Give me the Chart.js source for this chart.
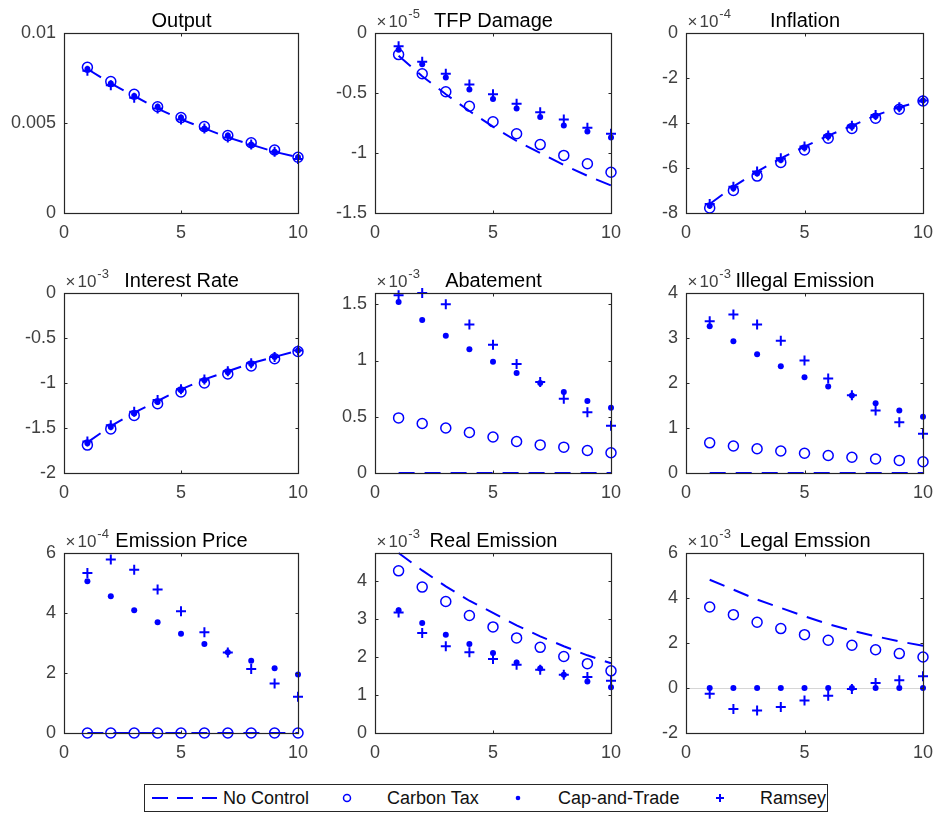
<!DOCTYPE html>
<html><head><meta charset="utf-8">
<script src="https://cdn.jsdelivr.net/npm/chart.js@4"></script>
<style>
html,body{margin:0;padding:0;background:#fff;overflow:hidden;}
body{width:934px;height:814px;position:relative;font-family:'Liberation Sans',Arial,sans-serif;}
canvas{position:absolute;}
#legend{position:absolute;left:144px;top:784px;width:682px;height:26px;border:1px solid #262626;background:#fff;}
#legend svg{position:absolute;left:0;top:0;}
.lt{position:absolute;top:0;line-height:26px;font-size:18px;color:#111;white-space:nowrap;}
</style></head><body>
<div id="legend">
<svg width="682" height="26">
<line x1="7" y1="13" x2="72" y2="13" stroke="#0000ff" stroke-width="2" stroke-dasharray="16 9"/>
<circle cx="202" cy="13" r="3.5" fill="none" stroke="#0000ff" stroke-width="1.5"/>
<circle cx="373" cy="13" r="2.3" fill="#0000ff"/>
<line x1="571" y1="13" x2="579" y2="13" stroke="#0000ff" stroke-width="2"/>
<line x1="575" y1="9" x2="575" y2="17" stroke="#0000ff" stroke-width="2"/>
</svg>
<span class="lt" style="left:78px">No Control</span>
<span class="lt" style="left:242px">Carbon Tax</span>
<span class="lt" style="left:413px">Cap-and-Trade</span>
<span class="lt" style="left:615px">Ramsey</span>
</div>
<script>
// ---------- data ----------
const periods = [1,2,3,4,5,6,7,8,9,10];
const seriesNames = ['No Control','Carbon Tax','Cap-and-Trade','Ramsey'];
const xTickValues = [0,5,10];

// Output
const outNo  = [0.0080,0.0072,0.0065,0.0058,0.0052,0.0047,0.0042,0.0038,0.0034,0.0031];
const outTax = [0.0081,0.0073,0.0066,0.0059,0.0053,0.0048,0.0043,0.0039,0.0035,0.0031];
const outCap = [0.0080,0.0072,0.0065,0.0059,0.0053,0.0047,0.0043,0.0038,0.0034,0.0031];
const outRam = [0.0079,0.0071,0.0064,0.0058,0.0052,0.0047,0.0042,0.0038,0.0034,0.0030];
// TFP Damage (x1e-5)
const tfpNo  = [-0.19,-0.36,-0.51,-0.65,-0.78,-0.90,-1.00,-1.10,-1.19,-1.27];
const tfpTax = [-0.18,-0.34,-0.49,-0.61,-0.74,-0.84,-0.93,-1.02,-1.09,-1.16];
const tfpCap = [-0.14,-0.26,-0.37,-0.47,-0.55,-0.63,-0.70,-0.77,-0.82,-0.87];
const tfpRam = [-0.11,-0.24,-0.34,-0.43,-0.51,-0.59,-0.66,-0.72,-0.79,-0.84];
// Inflation (x1e-4)
const infNo  = [-7.60,-6.83,-6.16,-5.57,-5.05,-4.56,-4.13,-3.66,-3.30,-3.01];
const infTax = [-7.78,-7.00,-6.36,-5.75,-5.20,-4.68,-4.24,-3.79,-3.39,-3.02];
const infCap = [-7.68,-6.90,-6.24,-5.64,-5.10,-4.60,-4.17,-3.70,-3.33,-3.00];
const infRam = [-7.60,-6.83,-6.16,-5.57,-5.04,-4.55,-4.12,-3.64,-3.30,-3.00];
// Interest Rate (x1e-3)
const irNo  = [-1.66,-1.48,-1.33,-1.20,-1.07,-0.96,-0.87,-0.78,-0.71,-0.64];
const irTax = [-1.69,-1.51,-1.36,-1.23,-1.10,-1.00,-0.90,-0.81,-0.73,-0.65];
const irCap = [-1.67,-1.49,-1.34,-1.21,-1.08,-0.97,-0.88,-0.79,-0.71,-0.64];
const irRam = [-1.65,-1.47,-1.32,-1.19,-1.07,-0.96,-0.87,-0.78,-0.71,-0.64];
// Abatement (x1e-3)
const abNo  = [0,0,0,0,0,0,0,0,0,0];
const abTax = [0.49,0.44,0.40,0.36,0.32,0.28,0.25,0.23,0.20,0.18];
const abCap = [1.52,1.36,1.22,1.10,0.99,0.89,0.80,0.72,0.64,0.58];
const abRam = [1.58,1.60,1.50,1.32,1.14,0.97,0.81,0.66,0.54,0.42];
// Illegal Emission (x1e-3)
const ilNo  = [0,0,0,0,0,0,0,0,0,0];
const ilTax = [0.67,0.60,0.54,0.49,0.44,0.39,0.35,0.31,0.28,0.25];
const ilCap = [3.26,2.93,2.64,2.37,2.13,1.92,1.72,1.55,1.39,1.25];
const ilRam = [3.37,3.52,3.30,2.94,2.50,2.10,1.73,1.39,1.13,0.87];
// Emission Price (x1e-4)
const epNo  = [0,0,0,0,0,0,0,0,0,0];
const epTax = [0,0,0,0,0,0,0,0,0,0];
const epCap = [5.06,4.56,4.09,3.69,3.31,2.97,2.69,2.41,2.16,1.95];
const epRam = [5.33,5.78,5.44,4.78,4.06,3.36,2.68,2.13,1.65,1.21];
// Real Emission (x1e-3)
const reNo  = [4.75,4.29,3.87,3.49,3.17,2.84,2.55,2.29,2.05,1.84];
const reTax = [4.28,3.85,3.47,3.10,2.80,2.51,2.26,2.02,1.83,1.64];
const reCap = [3.24,2.90,2.59,2.35,2.11,1.86,1.70,1.54,1.36,1.21];
const reRam = [3.18,2.64,2.29,2.13,1.95,1.80,1.67,1.54,1.48,1.38];
// Legal Emission (x1e-3)
const leNo  = [4.81,4.37,3.93,3.56,3.19,2.84,2.55,2.30,2.07,1.88];
const leTax = [3.60,3.26,2.92,2.64,2.37,2.12,1.90,1.70,1.53,1.38];
const leCap = [0,0,0,0,0,0,0,0,0,0];
const leRam = [-0.25,-0.93,-1.00,-0.84,-0.56,-0.34,-0.04,0.22,0.34,0.52];

const panelTitles = ['Output','TFP Damage','Inflation','Interest Rate','Abatement','Illegal Emission','Emission Price','Real Emission','Legal Emssion'];
const panelExponents = [null,'-5','-4','-3','-3','-3','-4','-3','-3'];
const yLimits = [[0,0.01],[-1.5,0],[-8,0],[-2,0],[0,1.6],[0,4],[0,6],[0,4.75],[-2,6]];
const yTickValues = [[0,0.005,0.01],[-1.5,-1,-0.5,0],[-8,-6,-4,-2,0],[-2,-1.5,-1,-0.5,0],[0,0.5,1,1.5],[0,1,2,3,4],[0,2,4,6],[0,1,2,3,4],[-2,0,2,4,6]];
const yTickLabels = [['0','0.005','0.01'],['-1.5','-1','-0.5','0'],['-8','-6','-4','-2','0'],['-2','-1.5','-1','-0.5','0'],['0','0.5','1','1.5'],['0','1','2','3','4'],['0','2','4','6'],['0','1','2','3','4'],['-2','0','2','4','6']];
const panelSeries = [
  [outNo,outTax,outCap,outRam],[tfpNo,tfpTax,tfpCap,tfpRam],[infNo,infTax,infCap,infRam],
  [irNo,irTax,irCap,irRam],[abNo,abTax,abCap,abRam],[ilNo,ilTax,ilCap,ilRam],
  [epNo,epTax,epCap,epRam],[reNo,reTax,reCap,reRam],[leNo,leTax,leCap,leRam]
];
const zeroLinePanels = [8];

// ---------- style / layout ----------
const BLUE = '#0000ff';
const AXIS = '#262626';
const TICK = '#404040';
const FONT = "'Liberation Sans', Arial, sans-serif";
const colLeft = [64,375,686], colWidth = [234,236,237], rowTop = [33,293,553], plotH = 180;
const PAD_L = 60, PAD_T = 33, PAD_R = 11, PAD_B = 36;

Chart.defaults.font.family = FONT;

const framePlugin = {
  id: 'frame',
  beforeDatasetsDraw(chart, args, opts) {
    if (!opts.zero) return;
    const {ctx, chartArea:{left,right}} = chart;
    const y = Math.round(chart.scales.y.getPixelForValue(0)) + 0.5;
    ctx.save();
    ctx.strokeStyle = '#d6d6d6'; ctx.lineWidth = 1;
    ctx.beginPath(); ctx.moveTo(left, y); ctx.lineTo(right, y); ctx.stroke();
    ctx.restore();
  },
  afterDraw(chart, args, opts) {
    const {ctx, chartArea:{left,right,top,bottom}} = chart;
    const xs = chart.scales.x, ys = chart.scales.y;
    ctx.save();
    ctx.strokeStyle = AXIS; ctx.lineWidth = 1.2;
    const l = Math.round(left)+0.5, r = Math.round(right)+0.5, t = Math.round(top)+0.5, b = Math.round(bottom)+0.5;
    ctx.strokeRect(l, t, r-l, b-t);
    ctx.lineWidth = 1;
    ctx.beginPath();
    xs.ticks.forEach(tk => {
      const px = Math.round(xs.getPixelForValue(tk.value))+0.5;
      ctx.moveTo(px, b); ctx.lineTo(px, b-3);
      ctx.moveTo(px, t); ctx.lineTo(px, t+3);
    });
    ys.ticks.forEach(tk => {
      const py = Math.round(ys.getPixelForValue(tk.value))+0.5;
      ctx.moveTo(l, py); ctx.lineTo(l+3, py);
      ctx.moveTo(r, py); ctx.lineTo(r-3, py);
    });
    ctx.stroke();
    // exponent
    if (opts.exp) {
      ctx.fillStyle = TICK; ctx.textAlign = 'left'; ctx.textBaseline = 'alphabetic';
      ctx.font = '17px ' + FONT;
      ctx.fillText('\u00d7', l+1, t-7);
      const w1 = ctx.measureText('\u00d7').width;
      ctx.fillText('10', l+1+w1+2, t-7);
      const w2 = ctx.measureText('10').width;
      ctx.font = '13px ' + FONT;
      ctx.fillText(opts.exp, l+1+w1+2+w2+1, t-16);
    }
    // title
    ctx.fillStyle = '#000'; ctx.textAlign = 'center'; ctx.textBaseline = 'alphabetic';
    ctx.font = '20px ' + FONT;
    ctx.fillText(opts.title, (l+r)/2, t-7);
    ctx.restore();
  }
};
Chart.register(framePlugin);

function pts(arr){ return periods.map((p,k)=>({x:p, y:arr[k]})); }

function makePanel(i){
  const r = Math.floor(i/3), c = i%3;
  const W = colWidth[c] + PAD_L + PAD_R, H = plotH + PAD_T + PAD_B;
  const cv = document.createElement('canvas');
  cv.width = W; cv.height = H;
  cv.style.width = W+'px'; cv.style.height = H+'px';
  cv.style.left = (colLeft[c]-PAD_L)+'px'; cv.style.top = (rowTop[r]-PAD_T)+'px';
  document.body.appendChild(cv);
  const [sNo, sTax, sCap, sRam] = panelSeries[i];
  new Chart(cv, {
    type: 'line',
    data: { datasets: [
      { label: seriesNames[0], data: pts(sNo), borderColor: BLUE, borderWidth: 2, borderDash: [16,10],
        pointRadius: 0, fill: false, tension: 0, clip: false },
      { label: seriesNames[1], data: pts(sTax), showLine: false, pointStyle: 'circle', pointRadius: 5,
        pointBorderWidth: 1.5, pointBorderColor: BLUE, pointBackgroundColor: 'rgba(0,0,0,0)', clip: false },
      { label: seriesNames[2], data: pts(sCap), showLine: false, pointStyle: 'circle', pointRadius: 3,
        pointBorderWidth: 0, pointBorderColor: BLUE, pointBackgroundColor: BLUE, clip: false },
      { label: seriesNames[3], data: pts(sRam), showLine: false, pointStyle: 'cross', pointRadius: 5,
        pointBorderWidth: 2, pointBorderColor: BLUE, clip: false }
    ]},
    options: {
      responsive: false, animation: false, devicePixelRatio: 1, events: [],
      layout: { padding: { top: PAD_T, right: PAD_R, left: 0, bottom: 0 } },
      plugins: { legend: { display: false }, tooltip: { enabled: false },
        frame: { title: panelTitles[i], exp: panelExponents[i], zero: zeroLinePanels.includes(i) } },
      scales: {
        x: { type: 'linear', min: 0, max: 10,
          afterBuildTicks: s => { s.ticks = xTickValues.map(v => ({value: v})); },
          ticks: { color: TICK, font: { size: 18 }, padding: 9, maxRotation: 0, autoSkip: false,
                   callback: v => String(v) },
          grid: { display: false, drawTicks: false }, border: { display: false },
          afterFit: s => { s.height = PAD_B; s.paddingLeft = 0; s.paddingRight = 0; } },
        y: { type: 'linear', min: yLimits[i][0], max: yLimits[i][1],
          afterBuildTicks: s => { s.ticks = yTickValues[i].map(v => ({value: v})); },
          ticks: { color: TICK, font: { size: 18 }, padding: 8, autoSkip: false,
                   callback: (v, idx) => yTickLabels[i][idx] },
          grid: { display: false, drawTicks: false }, border: { display: false },
          afterFit: s => { s.width = PAD_L; s.paddingTop = 0; s.paddingBottom = 0; } }
      }
    }
  });
}
for (let i = 0; i < 9; i++) makePanel(i);
</script>
</body></html>
